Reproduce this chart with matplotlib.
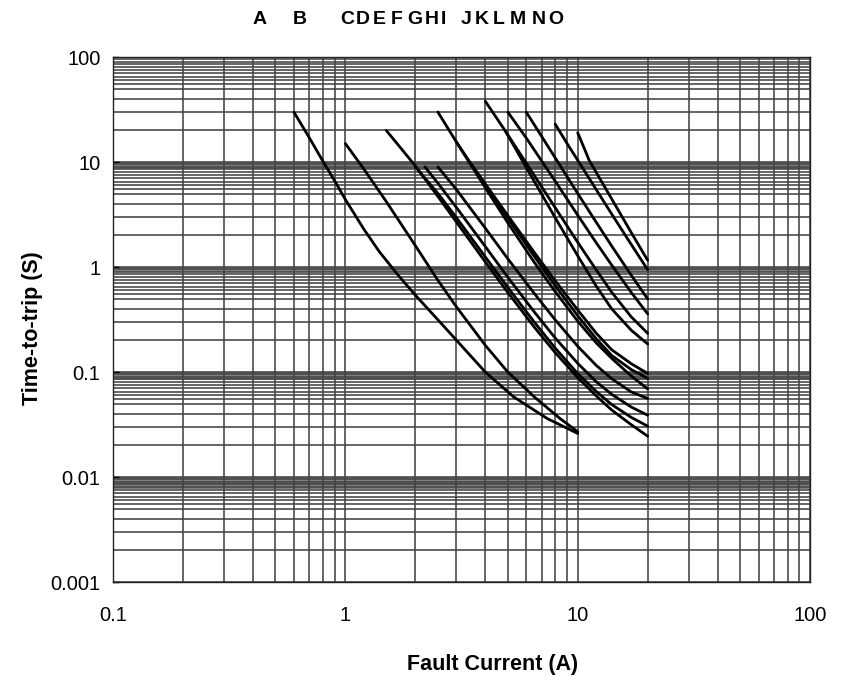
import matplotlib
matplotlib.use("Agg")
import matplotlib.pyplot as plt
from matplotlib.ticker import LogLocator, FixedLocator, FixedFormatter, NullFormatter
import matplotlib.transforms as mtransforms

plt.rcParams['font.family'] = ['Liberation Sans', 'DejaVu Sans']

# trip curves: fault current (A) vs time-to-trip (s)
a_i = [0.6, 0.7, 0.8, 0.9, 1.0, 1.2, 1.4, 1.7, 2.0, 2.5, 3.0, 4.0, 5.3, 7.4, 10]
a_t = [30, 17, 10.2, 6.6, 4.4, 2.3, 1.4, 0.82, 0.54, 0.315, 0.202, 0.1, 0.058, 0.036, 0.026]
b_i = [1.0, 1.2, 1.5, 2.0, 2.5, 3.0, 4.0, 5.0, 6.5, 8.4, 10]
b_t = [15, 8.6, 4.2, 1.6, 0.75, 0.42, 0.18, 0.1, 0.058, 0.036, 0.027]
c_i = [1.5, 2.0, 2.5, 3.0, 4.0, 5.0, 6.5, 8.0, 10, 12, 14, 17, 20]
c_t = [20, 9.2, 4.71, 2.7, 1.12, 0.573, 0.268, 0.153, 0.0886, 0.0594, 0.0435, 0.0315, 0.0245]
d0_i = [2.0, 2.5, 3.0, 4.0, 5.0, 6.5, 8.0, 10, 12, 14, 17, 20]
d0_t = [9.0, 5.04, 2.97, 1.25, 0.64, 0.299, 0.169, 0.0967, 0.0655, 0.049, 0.037, 0.0305]
d_i = [2.2, 2.5, 3.0, 4.0, 5.0, 6.5, 8.0, 10, 12, 14, 17, 20]
d_t = [9.0, 6.3, 3.71, 1.57, 0.80, 0.374, 0.211, 0.121, 0.081, 0.0614, 0.0464, 0.0388]
e_i = [2.5, 3.0, 4.0, 5.0, 6.5, 8.0, 10, 12, 14, 17, 20]
e_t = [9.0, 5.5, 2.35, 1.20, 0.561, 0.314, 0.176, 0.116, 0.0864, 0.0646, 0.056]
f_i = [2.5, 3.0, 3.5, 4.0, 5.0, 6.5, 8.0, 10, 12, 14, 17, 20]
f_t = [30, 15.6, 9.38, 6.04, 2.93, 1.265, 0.664, 0.344, 0.208, 0.144, 0.1055, 0.087]
g_i = [3.0, 4.0, 5.0, 6.5, 8.0, 10, 12, 14, 17, 20]
g_t = [15.6, 5.7, 2.64, 1.11, 0.583, 0.305, 0.19, 0.135, 0.0916, 0.069]
x_i = [3.5, 4.0, 5.0, 6.5, 8.0, 10, 12, 14, 17, 20]
x_t = [9.38, 6.2, 3.1, 1.38, 0.74, 0.39, 0.235, 0.163, 0.12, 0.097]
h_i = [4.0, 4.9, 6.0, 8.0, 10, 12, 14, 17, 20]
h_t = [38, 19.5, 9.79, 3.68, 1.72, 0.943, 0.576, 0.335, 0.234]
i_i = [4.9, 6.0, 8.0, 10, 12, 14, 17, 20]
i_t = [19.5, 8.9, 2.95, 1.28, 0.66, 0.40, 0.25, 0.185]
j_i = [5.0, 6.0, 8.0, 10, 12, 14, 17, 20]
j_t = [30, 17.0, 6.58, 3.12, 1.71, 1.045, 0.573, 0.358]
k_i = [6.0, 8.0, 10, 12, 14, 17, 20]
k_t = [30, 10.97, 5.02, 2.68, 1.587, 0.836, 0.497]
l_i = [8.0, 9.0, 10, 12, 14, 17, 20]
l_t = [23, 15.0, 10.4, 5.49, 3.20, 1.64, 0.943]
m_i = [10, 10.5, 11.2, 12, 14, 17, 20]
m_t = [19, 14.7, 10.4, 8.0, 4.46, 2.13, 1.16]

curves = [(a_i, a_t), (b_i, b_t), (c_i, c_t), (d0_i, d0_t), (d_i, d_t),
          (e_i, e_t), (f_i, f_t), (g_i, g_t), (x_i, x_t), (h_i, h_t),
          (i_i, i_t), (j_i, j_t), (k_i, k_t), (l_i, l_t), (m_i, m_t)]

# part letters across the top
letters = list("ABCDEFGHIJKLMNO")
letter_x = [0.427, 0.635, 1.017, 1.19, 1.40, 1.67, 2.00, 2.35, 2.65,
            3.32, 3.88, 4.58, 5.53, 6.77, 8.04]

x_ticks = [0.1, 1, 10, 100]
x_tick_labels = ["0.1", "1", "10", "100"]
y_ticks = [0.001, 0.01, 0.1, 1, 10, 100]
y_tick_labels = ["0.001", "0.01", "0.1", "1", "10", "100"]

# grey bands under the decade lines
band_decades = [10, 1, 0.1, 0.01]
band_factors = [0.86, 0.89, 0.84, 0.77]

fig = plt.figure(figsize=(8.41, 6.84), dpi=100)
ax = fig.add_axes([0.1344, 0.1491, 0.8288, 0.7675])
ax.set_xscale('log')
ax.set_yscale('log')
ax.set_xlim(0.1, 100)
ax.set_ylim(0.001, 100)

grid_col = '#444444'
ax.xaxis.set_minor_locator(LogLocator(base=10, subs=[2, 3, 4, 5, 6, 7, 8, 9]))
ax.yaxis.set_minor_locator(LogLocator(base=10, subs=[2, 3, 4, 5, 5.5, 6, 6.5, 7, 7.5, 8, 8.5, 9, 9.5]))
ax.xaxis.set_minor_formatter(NullFormatter())
ax.yaxis.set_minor_formatter(NullFormatter())
ax.grid(which='both', color=grid_col, linewidth=1.15)
ax.set_axisbelow(True)

for d, f in zip(band_decades, band_factors):
    ax.axhspan(d * f, d, color='#808080', linewidth=0, zorder=0.4)

for xs, ts in curves:
    ax.plot(xs, ts, color='black', linewidth=2.0, solid_capstyle='round',
            solid_joinstyle='round', zorder=3)

ax.xaxis.set_major_locator(FixedLocator(x_ticks))
ax.xaxis.set_major_formatter(FixedFormatter(x_tick_labels))
ax.yaxis.set_major_locator(FixedLocator(y_ticks))
ax.yaxis.set_major_formatter(FixedFormatter(y_tick_labels))
ax.tick_params(which='major', direction='in', length=4, width=1, labelsize=14.5)
ax.tick_params(axis='x', which='major', pad=17, length=0)
ax.tick_params(axis='y', which='major', pad=9)
ax.tick_params(which='minor', length=0)

for sp in ax.spines.values():
    sp.set_color('#222222')
    sp.set_linewidth(1.0)

ax.set_xlabel('Fault Current (A)', fontsize=15.5, fontweight='bold')
ax.set_ylabel('Time-to-trip (S)', fontsize=15.5, fontweight='bold')
ax.xaxis.set_label_coords(0.545, -0.138)
ax.yaxis.set_label_coords(-0.1, 0.484)

trans = mtransforms.blended_transform_factory(ax.transData, ax.transAxes)
for lab, lx in zip(letters, letter_x):
    ax.text(lx, 1.072, lab, transform=trans, ha='center', va='center',
            fontsize=14, fontweight='bold', clip_on=False)

fig.savefig('out.png', dpi=100)
